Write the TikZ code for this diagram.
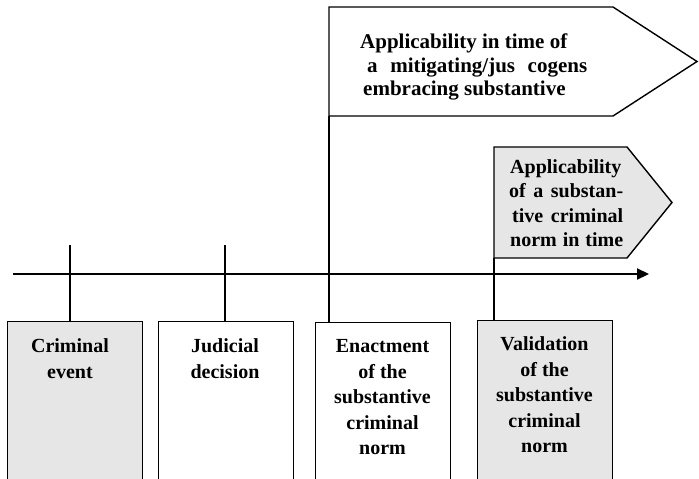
\documentclass[tikz,border=0pt]{standalone}
\usepackage{fontspec}
\setmainfont{Liberation Serif}
\usetikzlibrary{arrows.meta}
\definecolor{boxgray}{HTML}{E5E6E5}
\begin{document}
\begin{tikzpicture}[x=1pt,y=-1pt,
  box/.style={draw, line width=1.4pt, minimum width=135pt, minimum height=162pt,
              anchor=north west, inner sep=0pt},
  lbl/.style={font=\bfseries\fontsize{20}{25.5}\selectfont, align=center,
              inner sep=0pt, anchor=north},
  plbl/.style={font=\bfseries\fontsize{20}{24}\selectfont, inner sep=0pt, anchor=base west},
  biglbl/.style={plbl, font=\bfseries\fontsize{21}{24}\selectfont},
  tickline/.style={line width=1.7pt},
  flag/.style={draw, line width=1.4pt, line join=miter},
  axis/.style={line width=2.2pt, -{Triangle[length=12pt,width=11pt]}}]
\useasboundingbox (0,0) rectangle (699,479);

% event boxes under the time axis
\node[box, fill=boxgray] (crime) at (7,321) {};
\node[box] (judge) at (158,321) {};
\node[box] (enact) at (315,322) {};
\node[box, fill=boxgray] (valid) at (477,320) {};

\node[lbl] (crimet) at (70,338.5) {Criminal\\event};
\node[lbl] (judget) at (225,338.5) {Judicial\\decision};
\node[lbl] (enactt) at (382.5,339.5) {Enactment\\of the\\substantive\\criminal\\norm};
\node[lbl] (validt) at (544.5,336.5) {Validation\\of the\\substantive\\criminal\\norm};

% applicability flags
\coordinate (bigA) at (329,7);
\coordinate (bigB) at (613,7);
\coordinate (bigC) at (697,61.5);
\coordinate (bigD) at (613,116);
\coordinate (bigE) at (329,116);
\draw[flag, fill=white] (bigA) -- (bigB) -- (bigC) -- (bigD) -- (bigE) -- cycle;

\coordinate (smA) at (494,147);
\coordinate (smB) at (627,147);
\coordinate (smC) at (672,202.5);
\coordinate (smD) at (627,258);
\coordinate (smE) at (494,258);
\draw[flag, fill=boxgray] (smA) -- (smB) -- (smC) -- (smD) -- (smE) -- cycle;

\node[biglbl] (big1) at (360,48) {Applicability in time of};
\node[biglbl] (big2) at (367,72) {\makebox[220pt][s]{a mitigating/jus cogens}};
\node[biglbl] (big3) at (363,95.5) {embracing substantive};

\node[plbl] (sm1) at (510,173) {\makebox[112pt][s]{Applicability}};
\node[plbl] (sm2) at (509,197.5) {\makebox[114pt][s]{of a substan-}};
\node[plbl] (sm3) at (512,222) {\makebox[111pt][s]{tive criminal}};
\node[plbl] (sm4) at (510,246.5) {\makebox[113pt][s]{norm in time}};

% time axis
\coordinate (axs) at (13,274);
\coordinate (axe) at (649,274);
\draw[axis] (axs) -- (axe);

% ticks joining boxes and flags to the axis
\coordinate (t1) at (70,245);
\coordinate (t2) at (225,245);
\draw[tickline] (t1) -- (t1 |- crime.north);
\draw[tickline] (t2) -- (t2 |- judge.north);
\draw[tickline] (bigE) -- (bigE |- enact.north);
\draw[tickline] (smE) -- (smE |- valid.north);
\end{tikzpicture}
\end{document}
